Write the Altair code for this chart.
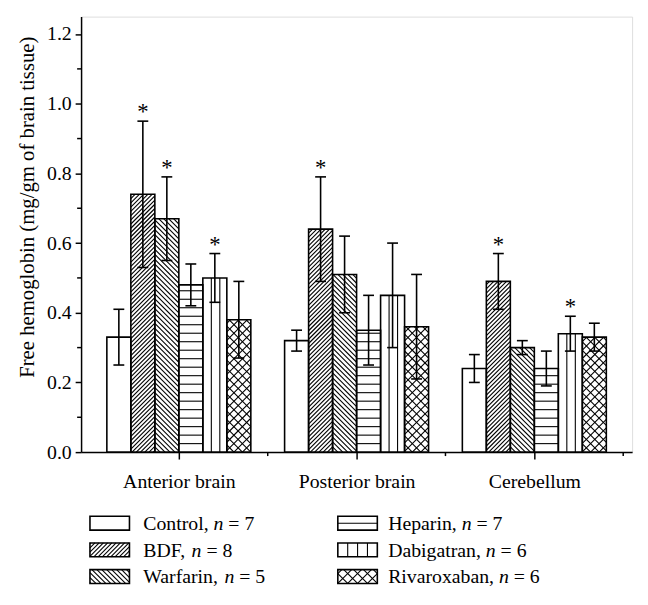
import altair as alt
import pandas as pd
import numpy as np

# ---------------- data ----------------
regions = ["Anterior brain", "Posterior brain", "Cerebellum"]
treatments = ["Control", "BDF", "Warfarin", "Heparin", "Dabigatran", "Rivaroxaban"]
n_sizes = [7, 8, 5, 7, 6, 6]
patterns = ["none", "fwd", "back", "hor", "ver", "cross"]

mean_control = [0.33, 0.32, 0.24]
mean_bdf = [0.74, 0.64, 0.49]
mean_warfarin = [0.67, 0.51, 0.30]
mean_heparin = [0.48, 0.35, 0.24]
mean_dabigatran = [0.50, 0.45, 0.34]
mean_rivaroxaban = [0.38, 0.36, 0.33]

err_control = [0.08, 0.03, 0.04]
err_bdf = [0.21, 0.15, 0.08]
err_warfarin = [0.12, 0.11, 0.02]
err_heparin = [0.06, 0.10, 0.05]
err_dabigatran = [0.07, 0.15, 0.05]
err_rivaroxaban = [0.11, 0.15, 0.04]

sig_control = [0, 0, 0]
sig_bdf = [1, 1, 1]
sig_warfarin = [1, 0, 0]
sig_heparin = [0, 0, 0]
sig_dabigatran = [1, 0, 1]
sig_rivaroxaban = [0, 0, 0]

y_major = [0.0, 0.2, 0.4, 0.6, 0.8, 1.0, 1.2]
y_minor = [0.1, 0.3, 0.5, 0.7, 0.9, 1.1]
x_minor = [1.5, 2.5, 3.5]
y_title = "Free hemoglobin (mg/gm of brain tissue)"

means = [mean_control, mean_bdf, mean_warfarin, mean_heparin, mean_dabigatran, mean_rivaroxaban]
errs = [err_control, err_bdf, err_warfarin, err_heparin, err_dabigatran, err_rivaroxaban]
sigs = [sig_control, sig_bdf, sig_warfarin, sig_heparin, sig_dabigatran, sig_rivaroxaban]

# ---------------- layout ----------------
W, H = 558, 441
XMIN, XMAX, YMAX = 0.45, 3.55, 1.25
SX = W / (XMAX - XMIN)
SY = H / YMAX
BAR_W = 0.135
CAP_HALF = 5.5 / SX
FONT = "Liberation Serif"


def hatch(kind, X0, X1, Y0, Y1, pf=4.3, pb=5.0, pc=8.6, ph=8.6, pv=8.6):
    """segments in a y-up pixel space, clipped to the rectangle"""
    segs = []
    if kind in ("fwd", "cross"):
        p = pf if kind == "fwd" else pc
        for k in range(int(np.floor((X0 - Y1) / p)) - 1, int(np.ceil((X1 - Y0) / p)) + 2):
            c = k * p
            xa, xb = max(X0, c + Y0), min(X1, c + Y1)
            if xb - xa > 0.3:
                segs.append((xa, xa - c, xb, xb - c))
    if kind in ("back", "cross"):
        p = pb if kind == "back" else pc
        for k in range(int(np.floor((X0 + Y0) / p)) - 1, int(np.ceil((X1 + Y1) / p)) + 2):
            c = k * p
            xa, xb = max(X0, c - Y1), min(X1, c - Y0)
            if xb - xa > 0.3:
                segs.append((xa, c - xa, xb, c - xb))
    if kind == "hor":
        y = Y0 + ph
        while y < Y1 - 1:
            segs.append((X0, y, X1, y))
            y += ph
    if kind == "ver":
        x = X0 + pv
        while x < X1 - 1:
            segs.append((x, Y0, x, Y1))
            x += pv
    return segs


bar_rows, hatch_rows, err_rows, cap_rows, star_rows = [], [], [], [], []
for k, t in enumerate(treatments):
    for g in range(3):
        v, e, s = means[k][g], errs[k][g], sigs[k][g]
        cx = (g + 1) + (k - 2.5) * BAR_W
        x0, x1 = cx - BAR_W / 2, cx + BAR_W / 2
        bar_rows.append(dict(t=t, x0=x0, x1=x1, y0=0.0, y1=v))
        for (a, b, c, d) in hatch(patterns[k], (x0 - XMIN) * SX, (x1 - XMIN) * SX, 0.0, v * SY):
            hatch_rows.append(dict(x=XMIN + a / SX, y=b / SY, x2=XMIN + c / SX, y2=d / SY))
        err_rows.append(dict(x=cx, lo=v - e, hi=v + e))
        cap_rows.append(dict(xa=cx - CAP_HALF, xb=cx + CAP_HALF, y=v + e))
        cap_rows.append(dict(xa=cx - CAP_HALF, xb=cx + CAP_HALF, y=v - e))
        if s:
            star_rows.append(dict(x=cx, y=v + e, s="*"))

bars = pd.DataFrame(bar_rows)
hatches = pd.DataFrame(hatch_rows)
errdf = pd.DataFrame(err_rows)
capdf = pd.DataFrame(cap_rows)
stardf = pd.DataFrame(star_rows)

# ---------------- legend (pixel layout converted to data units) ----------------
def dx(px):
    return XMIN + px / SX


def dy(py_screen):
    return (H - py_screen) / SY


TIMES = {'A': .722, 'B': .667, 'C': .667, 'D': .722, 'E': .611, 'F': .556, 'H': .722, 'R': .667,
         'W': .944, 'a': .444, 'b': .5, 'c': .444, 'd': .5, 'e': .444, 'f': .333, 'g': .5,
         'h': .5, 'i': .278, 'l': .278, 'm': .778, 'n': .5, 'o': .5, 'p': .5, 'r': .333,
         's': .389, 't': .278, 'u': .5, 'v': .5, 'x': .5, ',': .25, ' ': .25}
LFS = 20


def tw(s):
    return sum(TIMES.get(ch, .5) for ch in s) * LFS


leg_cols = [(9, 63), (260, 311)]
leg_rows = [513, 540, 567]
SW_W, SW_H = 40, 14
sw_rows, sw_hatch, txt_rows, ital_rows = [], [], [], []
for k, t in enumerate(treatments):
    col, row = divmod(k, 3)
    sx0, tx = leg_cols[col]
    cy = leg_rows[row]
    top, bot = cy - SW_H / 2, cy + SW_H / 2
    sw_rows.append(dict(x0=dx(sx0), x1=dx(sx0 + SW_W), y0=dy(bot), y1=dy(top)))
    for (a, b, c, d) in hatch(patterns[k], sx0, sx0 + SW_W, 0.0, SW_H,
                              ph=SW_H / 2, pv=SW_W / 4, pc=10.0):
        sw_hatch.append(dict(x=dx(a), y=dy(bot - b), x2=dx(c), y2=dy(bot - d)))
    base = cy + 7
    name = t + ","
    nx = tx + tw(name + " ")
    txt_rows.append(dict(x=dx(tx), y=dy(base), s=name))
    ital_rows.append(dict(x=dx(nx), y=dy(base), s="n"))
    txt_rows.append(dict(x=dx(nx + tw("n ")), y=dy(base), s="= " + str(n_sizes[k])))

swdf = pd.DataFrame(sw_rows)
swh = pd.DataFrame(sw_hatch)
txtdf = pd.DataFrame(txt_rows)
itadf = pd.DataFrame(ital_rows)

# ---------------- chart ----------------
xs = alt.Scale(domain=[XMIN, XMAX], nice=False, zero=False)
ys = alt.Scale(domain=[0, YMAX], nice=False, zero=False)
label_expr = "datum.value == 1 ? '%s' : datum.value == 2 ? '%s' : '%s'" % tuple(regions)

x_axis = alt.Axis(values=[1, 2, 3], labelExpr=label_expr, title=None, tickSize=7,
                  tickWidth=1.5, domainWidth=1.5, domainColor="black", tickColor="black",
                  labelFont=FONT, labelFontSize=20, labelColor="black", labelPadding=13,
                  grid=False)
y_axis = alt.Axis(values=y_major, format=".1f", title=None, tickSize=6, tickWidth=1.5,
                  domainWidth=1.5, domainColor="black", tickColor="black",
                  labelFont=FONT, labelFontSize=20, labelColor="black", labelPadding=4,
                  grid=False)

bar_fill = alt.Chart(bars).mark_rect(fill="white", strokeWidth=0).encode(
    x=alt.X("x0:Q", scale=xs, axis=x_axis), x2="x1:Q",
    y=alt.Y("y0:Q", scale=ys, axis=y_axis), y2="y1:Q")

hatch_layer = alt.Chart(hatches).mark_rule(color="black", strokeWidth=1.1).encode(
    x="x:Q", x2="x2:Q", y="y:Q", y2="y2:Q")

bar_outline = alt.Chart(bars).mark_rect(fillOpacity=0, stroke="black", strokeWidth=1.6).encode(
    x="x0:Q", x2="x1:Q", y="y0:Q", y2="y1:Q")

err_layer = alt.Chart(errdf).mark_rule(color="black", strokeWidth=1.6).encode(
    x="x:Q", y="lo:Q", y2="hi:Q")
cap_layer = alt.Chart(capdf).mark_rule(color="black", strokeWidth=1.6).encode(
    x="xa:Q", x2="xb:Q", y="y:Q")
star_layer = alt.Chart(stardf).mark_text(font=FONT, fontSize=23, baseline="alphabetic",
                                         dy=-2, color="black").encode(
    x="x:Q", y="y:Q", text="s:N")

ym = alt.Chart(pd.DataFrame({"v": y_minor})).mark_rule(color="black", strokeWidth=1.5).encode(
    y="v:Q", x=alt.value(-4), x2=alt.value(0))
xm = alt.Chart(pd.DataFrame({"v": x_minor})).mark_rule(color="black", strokeWidth=1.5).encode(
    x="v:Q", y=alt.value(H), y2=alt.value(H + 4))

title_layer = alt.Chart(pd.DataFrame({"s": [y_title]})).mark_text(
    font=FONT, fontSize=21, angle=270, align="center", baseline="middle", color="black").encode(
    x=alt.value(-54), y=alt.value(193), text="s:N")

sw_fill = alt.Chart(swdf).mark_rect(fill="white", strokeWidth=0).encode(
    x="x0:Q", x2="x1:Q", y="y0:Q", y2="y1:Q")
sw_hatch_layer = alt.Chart(swh).mark_rule(color="black", strokeWidth=1.1).encode(
    x="x:Q", x2="x2:Q", y="y:Q", y2="y2:Q")
sw_out = alt.Chart(swdf).mark_rect(fillOpacity=0, stroke="black", strokeWidth=1.6).encode(
    x="x0:Q", x2="x1:Q", y="y0:Q", y2="y1:Q")
leg_txt = alt.Chart(txtdf).mark_text(font=FONT, fontSize=LFS, align="left",
                                     baseline="alphabetic", color="black").encode(
    x="x:Q", y="y:Q", text="s:N")
leg_ita = alt.Chart(itadf).mark_text(font=FONT, fontSize=LFS, fontStyle="italic", align="left",
                                     baseline="alphabetic", color="black").encode(
    x="x:Q", y="y:Q", text="s:N")

chart = alt.layer(
    bar_fill, hatch_layer, bar_outline, err_layer, cap_layer, star_layer, ym, xm, title_layer,
    sw_fill, sw_hatch_layer, sw_out, leg_txt, leg_ita
).properties(
    width=W, height=H,
    autosize=alt.AutoSizeParams(type="none"),
    padding={"left": 74, "top": 5, "right": 8, "bottom": 145},
).configure_view(stroke=None).configure(background="white")

chart.save("out.html", embed_options={"renderer": "svg", "actions": False})
